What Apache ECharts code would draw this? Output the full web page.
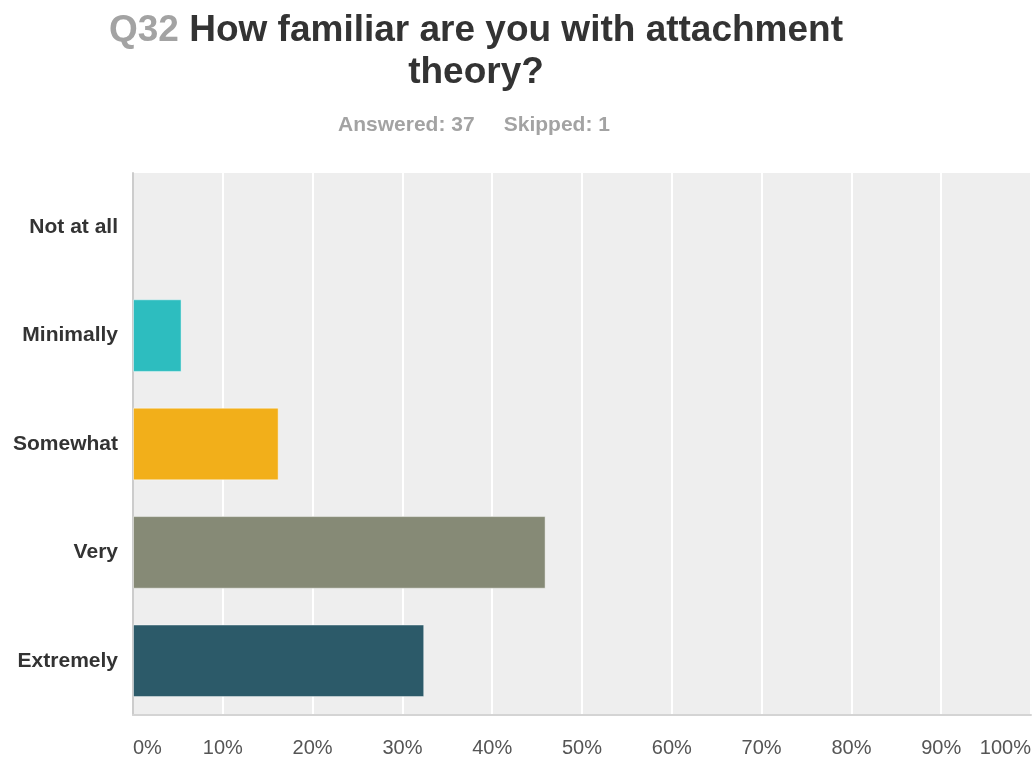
<!DOCTYPE html>
<html>
<head>
<meta charset="utf-8">
<title>Q32 How familiar are you with attachment theory?</title>
<script src="https://cdn.jsdelivr.net/npm/echarts@6/dist/echarts.min.js"></script>
<style>
  html, body { margin: 0; padding: 0; background: #ffffff; }
  #chart { width: 1034px; height: 761px; }
</style>
</head>
<body>
<div id="chart"></div>
<script>
// Answer choices, top to bottom
const categories = ['Not at all', 'Minimally', 'Somewhat', 'Very', 'Extremely'];
// Share of respondents (%), 37 answered
const values = [0, 5.41, 16.22, 45.95, 32.43];
// X axis ticks (%)
const xTicks = [0, 10, 20, 30, 40, 50, 60, 70, 80, 90, 100];

// One colour per answer choice
const palette = ['#2dbdbf', '#2dbdbf', '#f2af1a', '#868a76', '#2c5a69'];

const chart = echarts.init(document.getElementById('chart'), null, { renderer: 'canvas' });

const fontFamily = '"Liberation Sans", Arial, Helvetica, sans-serif';

chart.setOption({
  animation: false,
  backgroundColor: '#ffffff',
  graphic: [
    {
      type: 'text',
      x: 476,
      y: 10,
      style: {
        text: '{q|Q32 }{t|How familiar are you with attachment}\n{t|theory?}',
        align: 'center',
        verticalAlign: 'top',
        rich: {
          q: { fontFamily, fontSize: 37, fontWeight: 'bold', fill: '#a3a3a3', lineHeight: 42 },
          t: { fontFamily, fontSize: 37, fontWeight: 'bold', fill: '#333333', lineHeight: 42 }
        }
      }
    },
    {
      type: 'text',
      x: 474,
      y: 125,
      style: {
        text: 'Answered: 37     Skipped: 1',
        align: 'center',
        verticalAlign: 'middle',
        fontFamily,
        fontSize: 21,
        fontWeight: 'bold',
        fill: '#a3a3a3'
      }
    }
  ],
  grid: {
    left: 133,
    right: 3,
    top: 173,
    bottom: 46,
    show: true,
    backgroundColor: '#eeeeee',
    borderWidth: 0,
    containLabel: false
  },
  xAxis: {
    type: 'value',
    min: xTicks[0],
    max: xTicks[xTicks.length - 1],
    interval: xTicks[1] - xTicks[0],
    axisLine: { show: true, lineStyle: { color: '#d4d4d4', width: 2 } },
    axisTick: { show: false },
    splitLine: { show: true, showMinLine: false, lineStyle: { color: '#ffffff', width: 2 } },
    axisLabel: {
      formatter: '{value}%',
      fontFamily,
      fontSize: 20,
      color: '#555555',
      margin: 23,
      alignMinLabel: 'left',
      alignMaxLabel: 'right'
    }
  },
  yAxis: {
    type: 'category',
    data: categories,
    inverse: true,
    axisLine: { show: true, lineStyle: { color: '#cccccc', width: 2 } },
    axisTick: { show: false },
    splitLine: { show: false },
    axisLabel: {
      fontFamily,
      fontSize: 21,
      fontWeight: 'bold',
      color: '#333333',
      margin: 15
    }
  },
  series: [
    {
      type: 'bar',
      barCategoryGap: '33%',
      data: values.map((v, i) => ({
        value: v,
        itemStyle: {
          color: palette[i],
          borderColor: 'rgba(255,255,255,0.45)',
          // empty bars get no outline so the axis line stays visible
          borderWidth: v > 0 ? 1 : 0
        }
      }))
    }
  ]
});
</script>
</body>
</html>
